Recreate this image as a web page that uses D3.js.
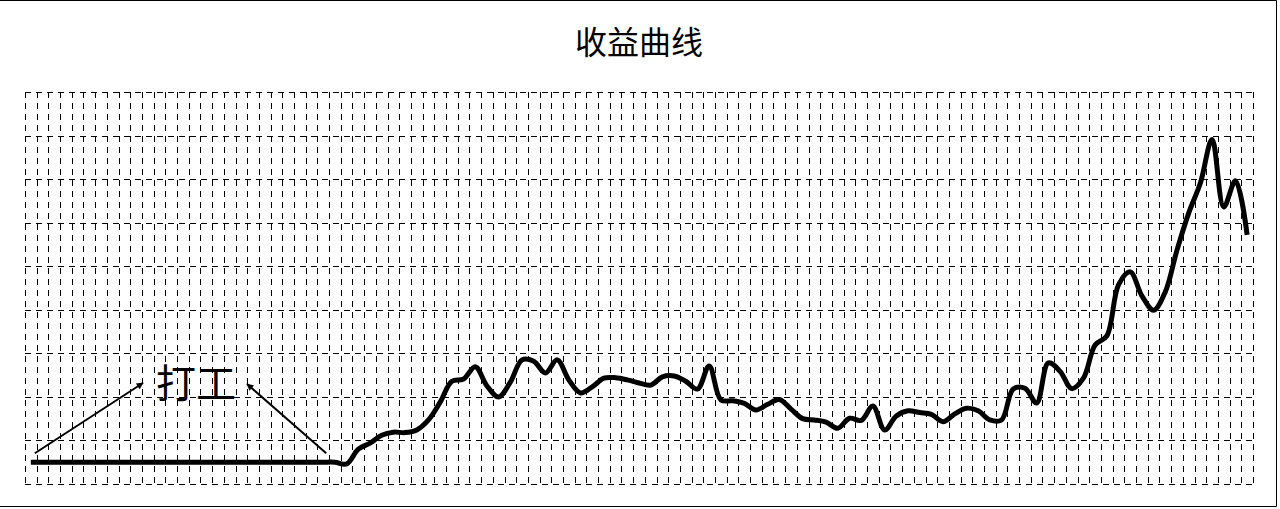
<!DOCTYPE html>
<html>
<head>
<meta charset="utf-8">
<script src="https://cdn.jsdelivr.net/npm/d3@7"></script>
<style>
  html, body { margin: 0; padding: 0; background: #fff; }
  svg { display: block; }
</style>
</head>
<body>
<svg id="chart" width="1280" height="509"></svg>
<script>
// ---- data ----
const title = "收益曲线";
const annotationLabel = "打工";
const categories = d3.range(1, 106).map(String);
const values = [
  50, 50, 50, 50, 50, 50, 50, 50, 50, 50,
  50, 50, 50, 50, 50, 50, 50, 50, 50, 50,
  50, 50, 50, 50, 50, 50, 50, 46, 80, 94,
  112, 119, 118, 124, 147, 188, 236, 241, 269, 225,
  200, 234, 285, 282, 255, 285, 239, 209, 223, 243,
  244, 239, 232, 227, 246, 248, 236, 218, 271, 193,
  191, 185, 170, 183, 194, 172, 150, 147, 142, 128,
  151, 146, 179, 124, 156, 168, 164, 160, 143, 161,
  174, 168, 147, 147, 218, 220, 186, 278, 259, 219,
  243, 319, 340, 457, 487, 432, 399, 441, 537, 622,
  691, 791, 636, 696, 572
];
const yTicks = [0, 100, 200, 300, 400, 500, 600, 700, 800, 900];

// ---- layout ----
const plot = { left: 25, right: 1253, top: 92, bottom: 484 };
const svg = d3.select("#chart");

// frame
svg.append("path")
  .attr("d", `M0,0.5 H1276.5 V506.5 H0`)
  .attr("fill", "none").attr("stroke", "#000").attr("stroke-width", 1);

const x = d3.scaleBand().domain(categories).range([plot.left, plot.right]).padding(0);
const y = d3.scaleLinear().domain([0, 900]).range([plot.bottom, plot.top]);

// grid
const grid = svg.append("g").attr("stroke", "#000").attr("stroke-width", 1)
  .attr("stroke-dasharray", "6,5").attr("fill", "none").attr("shape-rendering", "crispEdges");
const vx = d3.range(categories.length + 1).map(i => plot.left + i * x.step());
grid.selectAll("line.v").data(vx).join("line").attr("class", "v")
  .attr("x1", d => Math.round(d) + 0.5).attr("x2", d => Math.round(d) + 0.5)
  .attr("y1", plot.top).attr("y2", plot.bottom);
grid.selectAll("line.h").data(yTicks).join("line").attr("class", "h")
  .attr("x1", plot.left).attr("x2", plot.right)
  .attr("y1", d => Math.round(y(d)) + 0.5).attr("y2", d => Math.round(y(d)) + 0.5);

// line
const line = d3.line()
  .x((d, i) => x(categories[i]) + x.bandwidth() / 2)
  .y(d => y(d))
  .curve(d3.curveCatmullRom.alpha(0.5));
svg.append("path").datum(values)
  .attr("d", line)
  .attr("fill", "none").attr("stroke", "#000")
  .attr("stroke-width", 5).attr("stroke-linejoin", "round").attr("stroke-linecap", "butt");

// title
svg.append("text").text(title)
  .attr("x", 639).attr("y", 40)
  .attr("text-anchor", "middle").attr("dominant-baseline", "central")
  .attr("font-family", "'Noto Sans CJK SC', sans-serif").attr("font-size", 32).attr("fill", "#000");

// annotation
const defs = svg.append("defs");
defs.append("marker").attr("id", "arrow")
  .attr("viewBox", "0 0 10 10").attr("refX", 9).attr("refY", 5)
  .attr("markerWidth", 8).attr("markerHeight", 7).attr("markerUnits", "userSpaceOnUse")
  .attr("orient", "auto")
  .append("path").attr("d", "M0,0 L10,5 L0,10 z").attr("fill", "#000");

const firstX = x(categories[0]) + x.bandwidth() / 2;
const flatEndX = x(categories[25]) + x.bandwidth() / 2;
const flatY = y(values[0]);
const arrows = [
  { x1: firstX + 4, y1: flatY - 9, x2: 143, y2: 383 },
  { x1: flatEndX + 3, y1: flatY - 9, x2: 247, y2: 384 }
];
svg.selectAll("line.arrow").data(arrows).join("line").attr("class", "arrow")
  .attr("x1", d => d.x1).attr("y1", d => d.y1).attr("x2", d => d.x2).attr("y2", d => d.y2)
  .attr("stroke", "#000").attr("stroke-width", 2).attr("marker-end", "url(#arrow)");

svg.append("text").text(annotationLabel)
  .attr("x", 196).attr("y", 381)
  .attr("text-anchor", "middle").attr("dominant-baseline", "central")
  .attr("font-family", "'Noto Sans CJK SC', sans-serif").attr("font-size", 40).attr("fill", "#000");
</script>
</body>
</html>
